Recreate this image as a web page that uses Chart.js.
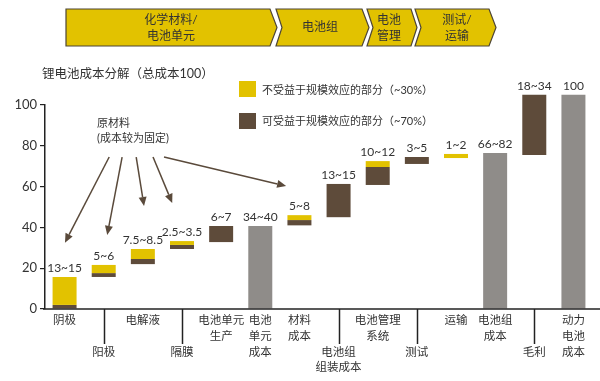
<!DOCTYPE html>
<html><head><meta charset="utf-8">
<script src="https://cdn.jsdelivr.net/npm/chart.js@4/dist/chart.umd.min.js"></script>
<style>html,body{margin:0;padding:0;background:#fff}#wrap{width:600px;height:381px;position:relative}</style>
</head><body><div id="wrap"><canvas id="c" width="600" height="381"></canvas></div>
<script>
// ---- data ----
const categoryNames = [['阴极'], ['阳极'], ['电解液'], ['隔膜'], ['电池单元','生产'], ['电池','单元','成本'], ['材料','成本'], ['电池组','组装成本'], ['电池管理','系统'], ['测试'], ['运输'], ['电池组','成本'], ['毛利'], ['动力','电池','成本']];
const labelRow = [1, 2, 1, 2, 1, 1, 1, 2, 1, 2, 1, 1, 2, 1];
const rangeLabels = ['13~15', '5~6', '7.5~8.5', '2.5~3.5', '6~7', '34~40', '5~8', '13~15', '10~12', '3~5', '1~2', '66~82', '18~34', '100'];
// part not benefiting from scale (yellow), [low, high]
const fixedPart = [[2, 15.7], [17.6, 21.6], [24.5, 29.4], [31.4, 33.3], null, null, [43.6, 46], null, [69.6, 72.5], null, [74, 76], null, null, null];
// part benefiting from scale (brown), [low, high]
const scalePart = [[0, 2], [15.7, 17.6], [22, 24.5], [29.4, 31.4], [32.8, 40.7], null, [41, 43.6], [45, 61.3], [60.8, 69.6], [71.1, 74.5], null, null, [75.5, 105], null];
// subtotal bars (gray)
const totals = [null, null, null, null, null, [0, 40.7], null, null, null, null, null, [0, 76.5], null, [0, 105]];
const yTicks = [0, 20, 40, 60, 80, 100];
const seriesNames = ['不受益于规模效应的部分（~30%）', '可受益于规模效应的部分（~70%）'];
const title = '锂电池成本分解（总成本100）';
const bannerLabels = [['化学材料/', '电池单元'], ['电池组'], ['电池', '管理'], ['测试/', '运输']];
const noteLines = ['原材料', '(成本较为固定)'];
// arrows: [fromCategory, fromValue, toCategory, toValue]
const arrows = [[1.14, 74.5, 0.01, 32.5], [1.47, 74.5, 1.09, 36.3], [1.83, 74.5, 2.03, 50.5], [2.26, 74.5, 2.75, 52], [2.54, 74.5, 5.66, 60.3]];

// ---- styles ----
const YEL = '#e2c200', BRN = '#5e4b3a', GRY = '#8f8c89', TXT = '#333333', AX = '#222222', ARW = '#5a4a3b';
const FF = "Lato, 'Noto Sans CJK SC', sans-serif";
Chart.defaults.font.family = FF;

const tickLabels = categoryNames.map((n, i) => labelRow[i] === 2 ? ['', '', ...n] : n);

const decor = {
  id: 'decor',
  beforeDraw(chart) {
    const c = chart.ctx;
    c.save();
    // banner
    const top = 9, bot = 46, mid = (top + bot) / 2;
    const shapes = [[66, 0, 270, 7], [276, 6, 362, 7], [367, 6, 411, 6], [415, 6, 489, 7]];
    const textX = [171, 320, 389, 457];
    shapes.forEach((s, i) => {
      const [l, n, r, p] = s;
      c.beginPath();
      c.moveTo(l, top); c.lineTo(r, top); c.lineTo(r + p, mid); c.lineTo(r, bot); c.lineTo(l, bot);
      if (n) c.lineTo(l + n, mid);
      c.closePath();
      c.fillStyle = YEL; c.fill();
      c.lineWidth = 1.2; c.strokeStyle = '#4d4535'; c.stroke();
      c.fillStyle = TXT; c.font = '12px ' + FF; c.textAlign = 'center'; c.textBaseline = 'middle';
      const L = bannerLabels[i];
      if (L.length === 1) c.fillText(L[0], textX[i], mid);
      else { c.fillText(L[0], textX[i], 20); c.fillText(L[1], textX[i], 36); }
    });
    // title
    c.fillStyle = TXT; c.font = '12.5px ' + FF; c.textAlign = 'left'; c.textBaseline = 'middle';
    c.fillText(title, 42, 74);
    // legend
    c.fillStyle = YEL; c.fillRect(239, 81, 17, 16);
    c.fillStyle = BRN; c.fillRect(239, 113, 17, 16);
    c.fillStyle = TXT; c.font = '11px ' + FF;
    c.fillText(seriesNames[0], 262, 90);
    c.fillText(seriesNames[1], 262, 121);
    c.restore();
  },
  afterDatasetsDraw(chart) {
    const c = chart.ctx, xs = chart.scales.x, ys = chart.scales.y, area = chart.chartArea;
    c.save();
    // value labels
    c.fillStyle = TXT; c.font = '12px ' + FF; c.textAlign = 'center'; c.textBaseline = 'bottom';
    rangeLabels.forEach((t, i) => {
      const his = [fixedPart[i], scalePart[i], totals[i]].filter(Boolean).map(d => d[1]);
      const top = Math.max(...his);
      c.fillText(t, xs.getPixelForValue(i), ys.getPixelForValue(top) - 3);
    });
    // x axis line
    c.strokeStyle = AX; c.lineWidth = 1.5;
    c.beginPath(); c.moveTo(area.left - 2, area.bottom); c.lineTo(chart.width, area.bottom); c.stroke();
    // leader lines for second-row labels
    labelRow.forEach((r, i) => {
      if (r !== 2) return;
      const x = Math.round(xs.getPixelForValue(i)) + 0.5;
      c.beginPath(); c.moveTo(x, area.bottom); c.lineTo(x, area.bottom + 35); c.stroke();
    });
    // note text
    c.fillStyle = TXT; c.font = '11px ' + FF; c.textAlign = 'left'; c.textBaseline = 'middle';
    const nx = xs.getPixelForValue(0.83), ny = ys.getPixelForValue(91);
    c.fillText(noteLines[0], nx, ny);
    c.fillText(noteLines[1], nx, ny + 15);
    // arrows
    c.strokeStyle = ARW; c.fillStyle = ARW; c.lineWidth = 1.5;
    arrows.forEach(a => {
      const x1 = xs.getPixelForValue(a[0]), y1 = ys.getPixelForValue(a[1]);
      const x2 = xs.getPixelForValue(a[2]), y2 = ys.getPixelForValue(a[3]);
      const ang = Math.atan2(y2 - y1, x2 - x1), hl = 9, hw = 4;
      const bx = x2 - hl * Math.cos(ang), by = y2 - hl * Math.sin(ang);
      c.beginPath(); c.moveTo(x1, y1); c.lineTo(bx, by); c.stroke();
      c.beginPath();
      c.moveTo(x2, y2);
      c.lineTo(bx + hw * Math.sin(ang), by - hw * Math.cos(ang));
      c.lineTo(bx - hw * Math.sin(ang), by + hw * Math.cos(ang));
      c.closePath(); c.fill();
    });
    c.restore();
  }
};

const common = { grouped: false, clip: false, barPercentage: 0.613, categoryPercentage: 1, borderWidth: 0 };
new Chart(document.getElementById('c'), {
  type: 'bar',
  data: {
    labels: tickLabels,
    datasets: [
      Object.assign({ label: seriesNames[0], data: fixedPart, backgroundColor: YEL }, common),
      Object.assign({ label: seriesNames[1], data: scalePart, backgroundColor: BRN }, common),
      Object.assign({ label: '', data: totals, backgroundColor: GRY }, common)
    ]
  },
  options: {
    responsive: false, animation: false,
    layout: { padding: { top: 105, right: 7, left: 0, bottom: 0 } },
    plugins: { legend: { display: false }, tooltip: { enabled: false }, title: { display: false } },
    scales: {
      x: {
        grid: { display: false, drawTicks: false }, border: { display: false },
        ticks: { autoSkip: false, maxRotation: 0, minRotation: 0, padding: 4, color: TXT, font: { size: 11.5, lineHeight: 1.35 } },
        afterFit(s) { s.height = 72; }
      },
      y: {
        min: 0, max: 100,
        afterBuildTicks(s) { s.ticks = yTicks.map(v => ({ value: v })); },
        grid: { drawOnChartArea: false, drawTicks: true, tickLength: 5, color: AX, lineWidth: 1.2 },
        border: { display: true, color: AX, width: 1.5 },
        ticks: { padding: 3, color: TXT, font: { size: 13 } },
        afterFit(s) { s.width = 45; }
      }
    }
  },
  plugins: [decor]
});
</script></body></html>
